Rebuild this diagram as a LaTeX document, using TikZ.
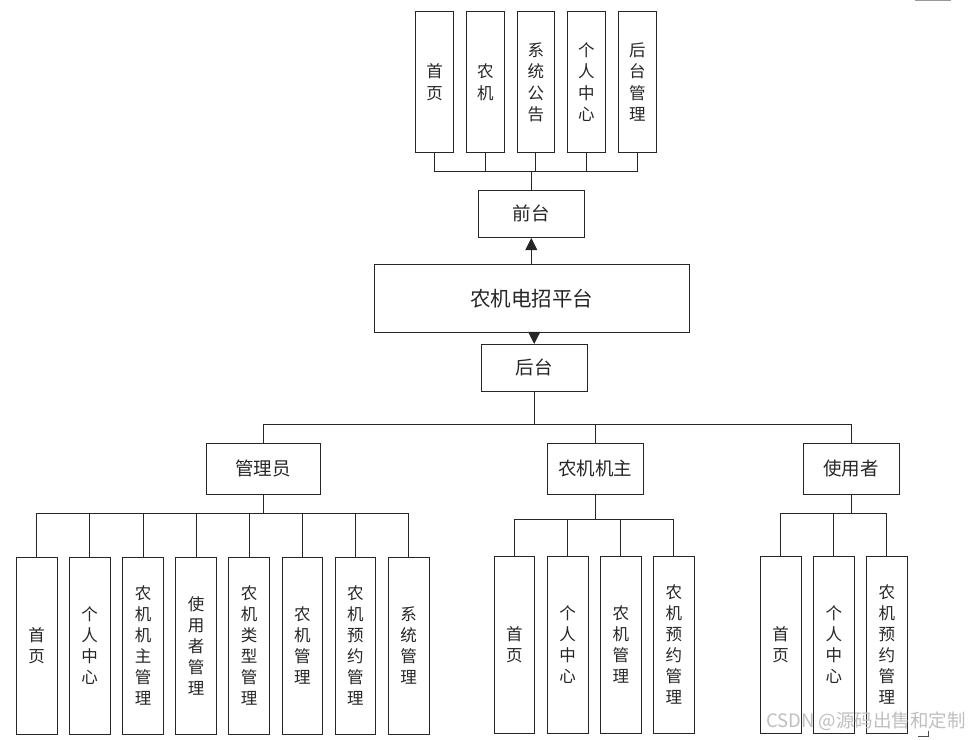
\documentclass[tikz,border=0pt]{standalone}
\usepackage{fontspec}
\newfontfamily\cjk{Noto Sans CJK SC}
\usetikzlibrary{arrows.meta}
\tikzset{
  box/.style={draw=black!85, line width=0.9pt, fill=white, inner sep=0pt, align=center, text=black!85},
  topbox/.style={box, minimum width=37.5pt, minimum height=141pt, font=\cjk\fontsize{16.5}{21.5}\selectfont},
  leafbox/.style={box, minimum width=40.5pt, minimum height=177pt, font=\cjk\fontsize{16.5}{21}\selectfont},
  midbox/.style={box, font=\cjk\fontsize{18.5}{22}\selectfont},
  link/.style={draw=black!85, line width=0.9pt},
  arr/.style={link, -{Triangle[length=12pt,width=12pt]}},
}
\begin{document}
\begin{tikzpicture}[x=1pt,y=-1pt]
\useasboundingbox (0,0) rectangle (973,739);
\fill[white] (0,0) rectangle (973,739);
% top level
\node[topbox] (t1) at (434.5,82.2) {首\\页};
\node[topbox] (t2) at (485.3,82.2) {农\\机};
\node[topbox] (t3) at (535.8,82.2) {系\\统\\公\\告};
\node[topbox] (t4) at (586.3,82.2) {个\\人\\中\\心};
\node[topbox] (t5) at (637.3,82.2) {后\\台\\管\\理};
\node[midbox, minimum width=106pt, minimum height=47.7pt] (qt) at (531.3,213.8) {前台};
\node[midbox, minimum width=315pt, minimum height=68.4pt, font=\cjk\fontsize{20.5}{24}\selectfont] (main) at (531.8,298.5) {农机电招平台};
\node[midbox, minimum width=106.3pt, minimum height=46.7pt] (ht) at (534.2,367.7) {后台};
% groups
\node[midbox, minimum width=114pt, minimum height=51pt] (g1) at (263,468.5) {管理员};
\node[midbox, minimum width=96pt, minimum height=51pt] (g2) at (595,468.7) {农机机主};
\node[midbox, minimum width=96pt, minimum height=51pt] (g3) at (851.2,468.5) {使用者};
% admin leaves
\node[leafbox] (a1) at (36.7,645.8) {首\\页};
\node[leafbox] (a2) at (89.7,645.8) {个\\人\\中\\心};
\node[leafbox] (a3) at (143,645.8) {农\\机\\机\\主\\管\\理};
\node[leafbox] (a4) at (196,645.8) {使\\用\\者\\管\\理};
\node[leafbox] (a5) at (249,645.8) {农\\机\\类\\型\\管\\理};
\node[leafbox] (a6) at (302.3,645.8) {农\\机\\管\\理};
\node[leafbox] (a7) at (355.3,645.8) {农\\机\\预\\约\\管\\理};
\node[leafbox] (a8) at (408.7,645.8) {系\\统\\管\\理};
% owner leaves
\node[leafbox] (o1) at (514.3,644.7) {首\\页};
\node[leafbox] (o2) at (567.7,644.7) {个\\人\\中\\心};
\node[leafbox] (o3) at (620.8,644.7) {农\\机\\管\\理};
\node[leafbox] (o4) at (673.8,644.7) {农\\机\\预\\约\\管\\理};
% user leaves
\node[leafbox] (u1) at (780.7,644.7) {首\\页};
\node[leafbox] (u2) at (833.8,644.7) {个\\人\\中\\心};
\node[leafbox] (u3) at (886.8,644.7) {农\\机\\预\\约\\管\\理};
% bus coordinates
\coordinate (busT) at (531.3,171.7);
\coordinate (busM) at (534.2,424.3);
\coordinate (busA) at (263,513.3);
\coordinate (busO) at (595,519.3);
\coordinate (busU) at (851.2,513);
% top connectors
\foreach \n in {t1,t2,t3,t4,t5} \draw[link] (\n.south) -- (\n.south |- busT);
\draw[link] (t1.south |- busT) -- (t5.south |- busT);
\draw[link] (qt.north) -- (qt.north |- busT);
\draw[arr] (qt.south |- main.north) -- (qt.south);
\draw[arr] (ht.north |- main.south) -- (ht.north);
% middle connectors
\draw[link] (ht.south) -- (ht.south |- busM);
\draw[link] (g1.north |- busM) -- (g3.north |- busM);
\foreach \n in {g1,g2,g3} \draw[link] (\n.north) -- (\n.north |- busM);
% admin
\draw[link] (g1.south) -- (busA);
\draw[link] (a1.north |- busA) -- (a8.north |- busA);
\foreach \n in {a1,a2,a3,a4,a5,a6,a7,a8} \draw[link] (\n.north) -- (\n.north |- busA);
% owner
\draw[link] (g2.south) -- (busO);
\draw[link] (o1.north |- busO) -- (o4.north |- busO);
\foreach \n in {o1,o2,o3,o4} \draw[link] (\n.north) -- (\n.north |- busO);
% user
\draw[link] (g3.south) -- (busU);
\draw[link] (u1.north |- busU) -- (u3.north |- busU);
\foreach \n in {u1,u2,u3} \draw[link] (\n.north) -- (\n.north |- busU);
% watermark and marks
\node[font=\cjk\fontsize{18.5}{20}\selectfont, text=black!25, anchor=west, inner sep=0pt] (wm) at (766,721.5) {CSDN @源码出售和定制};
\draw[black!40, line width=1pt] (915,0.5) -- (951,0.5);
\draw[black!70, line width=0.8pt] (918,736) -- (928,736) -- (928,731);
\end{tikzpicture}
\end{document}
